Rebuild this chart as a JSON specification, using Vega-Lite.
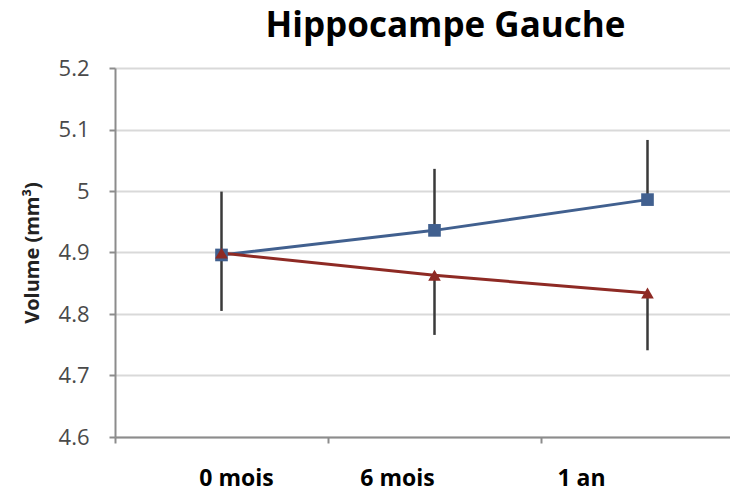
{
  "$schema": "https://vega.github.io/schema/vega-lite/v6.json",
  "autosize": {"type": "none"},
  "padding": {"left": 115, "top": 68, "right": 0, "bottom": 64},
  "width": 615,
  "height": 369,
  "background": "white",
  "config": {"view": {"stroke": null}},
  "title": {
    "text": "Hippocampe Gauche",
    "font": "Open Sans",
    "fontSize": 35,
    "fontWeight": "bold",
    "color": "#000000",
    "anchor": "middle",
    "dx": 23,
    "offset": 13
  },
  "data": {
    "values": [
      {"time": "0 mois", "group": "Groupe 1", "value": 4.896, "lo": 4.896, "hi": 4.999},
      {"time": "6 mois", "group": "Groupe 1", "value": 4.936, "lo": 4.936, "hi": 5.036},
      {"time": "1 an", "group": "Groupe 1", "value": 4.986, "lo": 4.986, "hi": 5.083},
      {"time": "0 mois", "group": "Groupe 2", "value": 4.899, "lo": 4.805, "hi": 4.899},
      {"time": "6 mois", "group": "Groupe 2", "value": 4.863, "lo": 4.766, "hi": 4.863},
      {"time": "1 an", "group": "Groupe 2", "value": 4.834, "lo": 4.741, "hi": 4.834}
    ]
  },
  "encoding": {
    "x": {
      "field": "time",
      "type": "nominal",
      "sort": ["0 mois", "6 mois", "1 an"],
      "scale": {"type": "band", "paddingInner": 0, "paddingOuter": 0, "range": [0, 639]},
      "axis": {
        "title": null,
        "bandPosition": 0,
        "domainColor": "#8c8c8c",
        "domainWidth": 2,
        "tickColor": "#8c8c8c",
        "tickWidth": 2,
        "tickSize": 6,
        "grid": false,
        "labelAngle": 0,
        "labelFont": "Open Sans",
        "labelFontSize": 23,
        "labelFontWeight": "bold",
        "labelColor": "#000000",
        "labelBaseline": "alphabetic",
        "labelAlign": "center",
        "labelPadding": 42,
        "labelOffset": {"expr": "datum.value === '0 mois' ? 15 : (datum.value === '6 mois' ? -37 : -66)"}
      }
    }
  },
  "layer": [
    {
      "mark": {"type": "rule", "color": "#3a3a3a", "strokeWidth": 2.5},
      "encoding": {
        "y": {"field": "lo", "type": "quantitative"},
        "y2": {"field": "hi"}
      }
    },
    {
      "mark": {"type": "line", "strokeWidth": 3},
      "encoding": {
        "y": {
          "field": "value",
          "type": "quantitative",
          "scale": {"domain": [4.6, 5.2], "nice": false, "zero": false},
          "axis": {
            "title": "Volume (mm³)",
            "titleFont": "Open Sans",
            "titleFontSize": 20,
            "titleFontWeight": "bold",
            "titleColor": "#222222",
            "titlePadding": 16,
            "values": [4.6, 4.7, 4.8, 4.9, 5.0, 5.1, 5.2],
            "format": ".1~f",
            "labelFont": "Open Sans",
            "labelFontSize": 22,
            "labelColor": "#4a4a4a",
            "labelPadding": 20,
            "tickSize": 6,
            "tickColor": "#8c8c8c",
            "tickWidth": 2,
            "domainColor": "#8c8c8c",
            "domainWidth": 2,
            "gridColor": "#d9d9d9",
            "gridWidth": 2
          }
        },
        "color": {
          "field": "group",
          "type": "nominal",
          "scale": {"domain": ["Groupe 1", "Groupe 2"], "range": ["#41608f", "#8e2a24"]},
          "legend": null
        }
      }
    },
    {
      "mark": {"type": "point", "filled": true, "opacity": 1, "size": 160},
      "encoding": {
        "y": {"field": "value", "type": "quantitative"},
        "color": {
          "field": "group",
          "type": "nominal",
          "scale": {"domain": ["Groupe 1", "Groupe 2"], "range": ["#3d5790", "#8a2420"]},
          "legend": null
        },
        "shape": {
          "field": "group",
          "type": "nominal",
          "scale": {"domain": ["Groupe 1", "Groupe 2"], "range": ["square", "triangle-up"]},
          "legend": null
        }
      }
    }
  ]
}
